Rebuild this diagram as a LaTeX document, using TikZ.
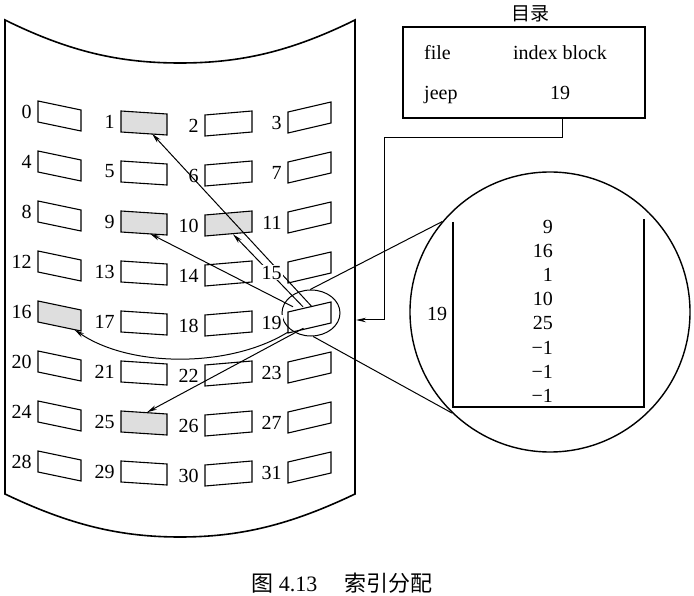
\documentclass[tikz,border=0pt]{standalone}
\usepackage{fontspec}
\setmainfont{Liberation Serif}
\newfontfamily\cjk{Noto Sans CJK SC}
\usetikzlibrary{arrows.meta,positioning,shapes.geometric}
\definecolor{sectorgray}{rgb}{0.87,0.87,0.87}
\newcommand{\diskblock}[6]{% name, x, y, width, skew, fill
  \node[blockspot, minimum width=#4pt] (#1) at (#2,#3) {};
  \begin{scope}[shift={(#2,#3)}]
  \draw[blockline, fill=#6] (-#4/2,{-(#5)/2-10.5}) -- (#4/2,{(#5)/2-10.5})
    -- (#4/2,{(#5)/2+10.5}) -- (-#4/2,{-(#5)/2+10.5}) -- cycle;
  \end{scope}
}
\tikzset{
  every node/.style={font=\fontsize{20}{24}\selectfont},
  blockspot/.style={rectangle, minimum height=21pt, inner sep=0pt},
  blockline/.style={line width=1.1pt},
  blocklabel/.style={inner sep=1pt},
  masklabel/.style={inner sep=1pt, fill=white},
  pointer/.style={line width=1pt, -{Stealth[length=10pt,width=4.5pt]}},
  zoomline/.style={line width=1pt},
  dirbox/.style={draw, line width=1.4pt, minimum width=242pt, minimum height=91pt, inner sep=0pt},
  dirtext/.style={inner sep=2pt}
}

\begin{document}
\begin{tikzpicture}[x=1pt,y=-1pt]
  \useasboundingbox (0,0) rectangle (694,596);

  %% disk outline
  \draw[line width=1.6pt] (5,20) .. controls (70,52) and (120,63) .. (180,63)
    .. controls (240,63) and (290,52) .. (355,20) -- (355,494)
    .. controls (290,525) and (240,537) .. (180,537)
    .. controls (120,537) and (70,525) .. (5,494) -- cycle;

  %% blocks
  \foreach \row in {0,...,7}{
    \foreach \col/\cx/\cy/\w/\dy in {0/59.5/116/43/9,1/144/123/46/3,2/228.5/123.5/47/-4,3/309.5/117.5/43/-10}{
      \pgfmathtruncatemacro\n{4*\row+\col}
      \pgfmathsetmacro\by{\cy+50*\row}
      \pgfmathtruncatemacro\pct{(\n==1)||(\n==9)||(\n==10)||(\n==16)||(\n==25)?100:0}
      \diskblock{b\n}{\cx}{\by}{\w}{\dy}{sectorgray!\pct}
    }
  }

  %% index block pointers
  \draw[pointer] ([xshift=2.5pt]b19.north) -- ([xshift=8pt]b1.south);
  \draw[pointer] ([xshift=-6.5pt]b19.north) -- ([xshift=4.5pt]b10.south);
  \draw[pointer] ([xshift=-16.5pt]b19.north) -- ([xshift=6pt]b9.south);
  \draw[pointer] ([xshift=-6pt]b19.south) -- ([xshift=3pt]b25.north);
  \draw[pointer] ([yshift=-4pt]b19.south west) .. controls (230,368) and (130,368) .. ([xshift=15pt,yshift=-3pt]b16.south);

  %% magnified index block
  \node[ellipse, draw, line width=1pt, minimum width=58pt, minimum height=46pt, inner sep=0pt] (zoomsrc) at (311,313) {};
  \node[circle, draw, line width=1.4pt, minimum size=280pt, inner sep=0pt] (zoomview) at (550,312) {};
  \draw[zoomline] (zoomsrc.92) -- (zoomview.140);
  \draw[zoomline] (zoomsrc.-85) -- (zoomview.226);
  \draw[line width=1.7pt] (453,222) |- (644,407) -- (644,219);
  \foreach \v [count=\i] in {9,16,1,10,25,−1,−1,−1}
    \node[blocklabel, anchor=east] (idx\i) at (554,{227+24.1*(\i-1)}) {\v};
  \node[blocklabel] (zoomlabel) at (437,314) {19};

  %% block numbers
  \foreach \row in {0,...,7}{
    \foreach \col/\dy in {0/9,1/3,2/-4,3/-10}{
      \pgfmathtruncatemacro\n{4*\row+\col}
      \ifnum\n=15 \def\lblstyle{masklabel}\else\ifnum\n=19 \def\lblstyle{masklabel}\else\def\lblstyle{blocklabel}\fi\fi
      \node[\lblstyle, left=5pt of b\n.west, yshift={\dy/2}] (l\n) {\n};
    }
  }

  %% directory
  \node[dirbox] (dir) at (524,72.5) {};
  \node[dirtext, anchor=base west] (fhead) at (422,60) {file};
  \node[dirtext, anchor=base] (ihead) at (560,60) {index block};
  \node[dirtext, anchor=base west] (fname) at (422,100) {jeep};
  \node[dirtext, anchor=base] (iblock) at (560,100) {19};
  \node[dirtext, above=2pt of dir.north, xshift=6pt, font=\cjk\fontsize{19}{22}\selectfont] (dirtitle) {目录};
  \coordinate (diskport) at (356,320);
  \draw[pointer] ([xshift=38pt]dir.south) |- (384,138) |- (diskport);

  %% caption
  \node[font=\fontsize{22}{26}\selectfont] (caption) at (342,583) {{\cjk 图} 4.13\quad\ {\cjk 索引分配}};
\end{tikzpicture}
\end{document}
